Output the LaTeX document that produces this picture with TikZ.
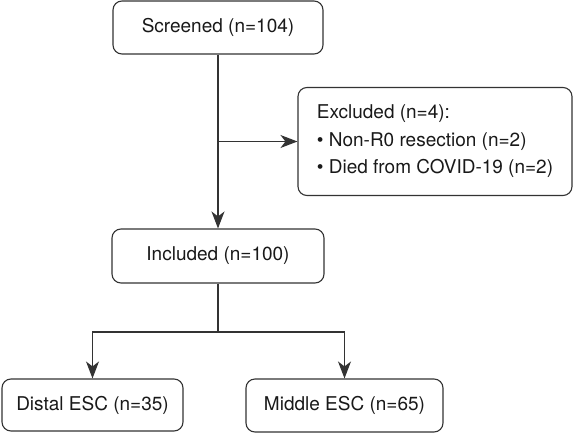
\documentclass[tikz,border=0pt]{standalone}
\usepackage{fontspec}
\setmainfont{TeX Gyre Heros}
\usetikzlibrary{arrows.meta}

\begin{document}
\begin{tikzpicture}[x=1pt, y=-1pt,
    box/.style={draw=black!80, line width=1.1pt, rounded corners=9pt, text=black!90,
        font=\fontsize{19}{27.5}\selectfont, inner sep=0pt},
    ->/.style={draw=black!80, line width=1.1pt, -{Stealth[length=17pt, width=13pt, inset=5pt]}}]
    \useasboundingbox (0,0) rectangle (573,434);

    \node[box, minimum width=210, minimum height=53] (scr) at (218,27.5) {Screened (n=104)};
    \node[box, minimum width=274, minimum height=108, align=left] (exc) at (435,141.5)
        {Excluded (n=4):\\ \textbullet{} Non-R0 resection (n=2)\\ \textbullet{} Died from COVID-19 (n=2)};
    \node[box, minimum width=212, minimum height=54] (inc) at (218,256) {Included (n=100)};
    \node[box, minimum width=181, minimum height=52] (dis) at (92.5,405) {Distal ESC (n=35)};
    \node[box, minimum width=197, minimum height=53] (mid) at (344.5,405.5) {Middle ESC (n=65)};

    \coordinate (split) at (218,141.5);
    \coordinate (fork) at (218,332);

    \draw[->] (scr) -- (inc);
    \draw[->] (split) -- (split -| exc.west);
    \draw[draw=black!80, line width=1.1pt] (inc) -- (fork);
    \draw[->] (fork) -| (dis);
    \draw[->] (fork) -| (mid);
\end{tikzpicture}
\end{document}
